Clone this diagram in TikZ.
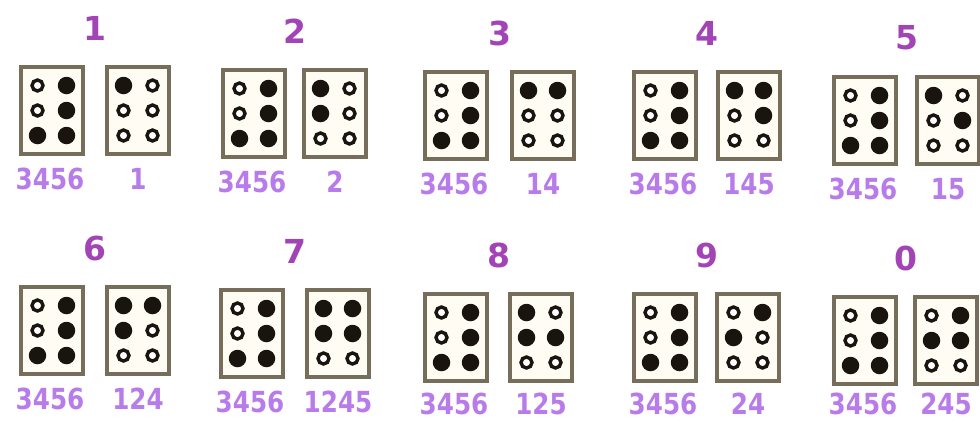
\documentclass[tikz,border=0pt]{standalone}
\usepackage{fontspec}
\setmainfont{DejaVu Sans}
\definecolor{titlec}{RGB}{162,68,182}
\definecolor{labc}{RGB}{184,124,234}
\definecolor{boxc}{RGB}{118,110,90}
\definecolor{boxfill}{RGB}{255,253,243}
\definecolor{dotc}{RGB}{26,20,14}
\tikzset{
  bbox/.style={draw=boxc, line width=3.5pt, fill=boxfill, minimum width=62pt, minimum height=87pt, inner sep=0pt},
  odot/.style={circle, draw=dotc, line width=3.4pt, fill=white, minimum size=11pt, inner sep=0pt},
  fdot/.style={circle, fill=dotc, minimum size=17.5pt, inner sep=0pt},
  ttl/.style={text=titlec, font=\bfseries\fontsize{33}{33}\selectfont, inner sep=0pt},
  lab/.style={text=labc, font=\bfseries\fontsize{29}{29}\selectfont, inner sep=0pt}
}
% #1 name, #2 x, #3 y (top-left of left box), #4 offset of right box, #5 title, #6 right label, #7 right dot pattern
\newcommand\brcell[7]{%
  \node[bbox] (#1L) at ({#2+33},{#3+45.5}) {};
  \node[bbox] (#1R) at ({#2+#4+33},{#3+45.5}) {};
  \node[ttl] (#1T) at ({#2+(#4+66)/2},{#3-37}) {#5};
  \node[lab] (#1N) at ({#2+31},{min(#3+114,404)}) {\scalebox{0.85}[1]{3456}};
  \node[lab] (#1D) at ({#2+#4+33},{min(#3+114,404)}) {\scalebox{0.85}[1]{#6}};
  \foreach \k/\dx/\dy in {1/-14.5/-25,2/-14.5/0,3/-14.5/25,4/14.5/-25,5/14.5/0,6/14.5/25}{%
    \pgfmathtruncatemacro\lv{{0,0,1,1,1,1}[\k-1]}%
    \ifnum\lv=1 \def\lst{fdot}\else\def\lst{odot}\fi
    \node[\lst] (#1L\k) at ([shift={(\dx,\dy)}]#1L.center) {};
    \pgfmathtruncatemacro\rv{{#7}[\k-1]}%
    \ifnum\rv=1 \def\rst{fdot}\else\def\rst{odot}\fi
    \node[\rst] (#1R\k) at ([shift={(\dx,\dy)}]#1R.center) {};
  }%
}
\begin{document}
\begin{tikzpicture}[x=1pt,y=-1pt]
\useasboundingbox[fill=white] (0,0) rectangle (980,421);
\brcell{a}{19}{65}{86}{1}{1}{1,0,0,0,0,0}
\brcell{b}{221}{68}{81}{2}{2}{1,1,0,0,0,0}
\brcell{c}{423}{70}{87}{3}{14}{1,0,0,1,0,0}
\brcell{d}{632}{70}{84}{4}{145}{1,0,0,1,1,0}
\brcell{e}{832}{75}{83}{5}{15}{1,0,0,0,1,0}
\brcell{f}{19}{285}{86}{6}{124}{1,1,0,1,0,0}
\brcell{g}{219}{288}{86}{7}{1245}{1,1,0,1,1,0}
\brcell{h}{423}{292}{85}{8}{125}{1,1,0,0,1,0}
\brcell{i}{632}{292}{83}{9}{24}{0,1,0,1,0,0}
\brcell{j}{832}{295}{81}{0}{245}{0,1,0,1,1,0}
\end{tikzpicture}
\end{document}
